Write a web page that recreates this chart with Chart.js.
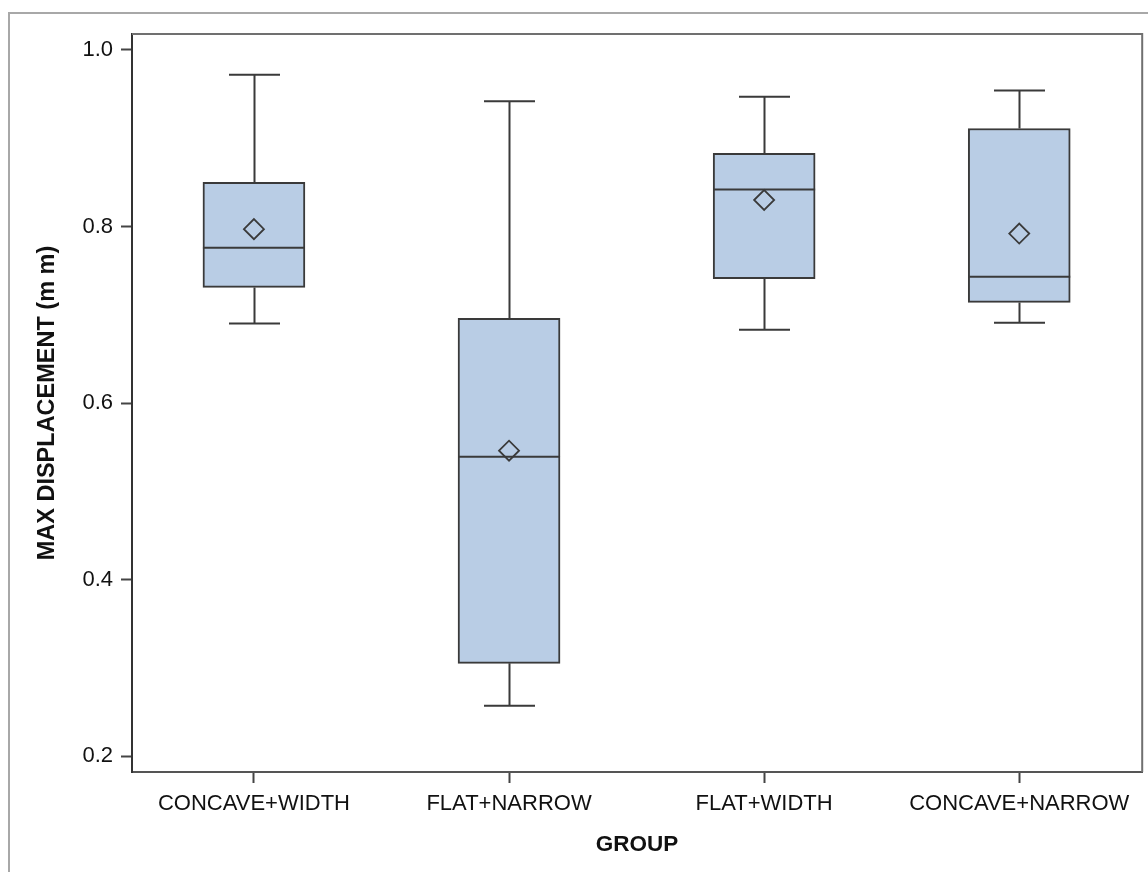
<!DOCTYPE html>
<html>
<head>
<meta charset="utf-8">
<script src="https://cdn.jsdelivr.net/npm/chart.js@4/dist/chart.umd.min.js"></script>
<style>
  html, body { margin: 0; padding: 0; background: #fff; overflow: hidden; }
  /* canvas is a little wider than the window: the point overflow margin falls outside */
  #wrap { width: 1154px; height: 872px; position: relative; }
</style>
</head>
<body>
<div id="wrap"><canvas id="boxChart"></canvas></div>
<script>
// group names on the x axis
const groups = ['CONCAVE+WIDTH', 'FLAT+NARROW', 'FLAT+WIDTH', 'CONCAVE+NARROW'];

// box plot statistics per group (mm)
const whiskerLow  = [0.690, 0.257, 0.683, 0.691];
const q1          = [0.731, 0.305, 0.741, 0.714];
const median      = [0.776, 0.539, 0.842, 0.743];
const q3          = [0.850, 0.696, 0.883, 0.911];
const whiskerHigh = [0.972, 0.942, 0.947, 0.954];
const means       = [0.797, 0.546, 0.830, 0.792];

// y axis tick labels
const yTicks = [0.2, 0.4, 0.6, 0.8, 1.0];

const boxFill = '#b9cde5';
const lineDark = '#3a3a3a';
const fontFamily = "'Liberation Sans', Arial, sans-serif";

// whiskers behind the boxes, median lines on top of them, frames around
const boxPlotPlugin = {
    id: 'boxPlotExtras',
    beforeDraw(chart) {
        const ctx = chart.ctx;
        ctx.save();
        ctx.strokeStyle = '#a8a8a8';
        ctx.lineWidth = 2;
        ctx.strokeRect(9, 13, 1400, 1000);
        ctx.restore();
    },
    beforeDatasetsDraw(chart) {
        const ctx = chart.ctx;
        const y = chart.scales.y;
        const meta = chart.getDatasetMeta(0);
        ctx.save();
        ctx.strokeStyle = lineDark;
        ctx.lineWidth = 2;
        meta.data.forEach(function(bar, i) {
            const cx = Math.round(bar.x) + 0.5;
            const half = bar.width / 4;
            const yHi = y.getPixelForValue(whiskerHigh[i]);
            const yLo = y.getPixelForValue(whiskerLow[i]);
            ctx.beginPath();
            ctx.moveTo(cx, yHi);
            ctx.lineTo(cx, y.getPixelForValue(q3[i]));
            ctx.moveTo(cx, y.getPixelForValue(q1[i]));
            ctx.lineTo(cx, yLo);
            ctx.moveTo(cx - half, yHi);
            ctx.lineTo(cx + half, yHi);
            ctx.moveTo(cx - half, yLo);
            ctx.lineTo(cx + half, yLo);
            ctx.stroke();
        });
        ctx.restore();
    },
    afterDatasetDraw(chart, args) {
        if (args.index !== 0) return;
        const ctx = chart.ctx;
        const y = chart.scales.y;
        ctx.save();
        ctx.strokeStyle = lineDark;
        ctx.lineWidth = 2;
        args.meta.data.forEach(function(bar, i) {
            const my = y.getPixelForValue(median[i]);
            ctx.beginPath();
            ctx.moveTo(bar.x - bar.width / 2, my);
            ctx.lineTo(bar.x + bar.width / 2, my);
            ctx.stroke();
        });
        ctx.restore();
    },
    afterDraw(chart) {
        const a = chart.chartArea;
        const ctx = chart.ctx;
        ctx.save();
        ctx.strokeStyle = '#707070';
        ctx.lineWidth = 2;
        ctx.beginPath();
        ctx.moveTo(a.left, a.top);
        ctx.lineTo(a.right, a.top);
        ctx.lineTo(a.right, a.bottom);
        ctx.stroke();
        ctx.restore();
    }
};

const ctx = document.getElementById('boxChart').getContext('2d');
new Chart(ctx, {
    type: 'bar',
    data: {
        datasets: [{
            type: 'bar',
            order: 1,
            data: groups.map((g, i) => ({ x: i, y: [q1[i], q3[i]] })),
            backgroundColor: boxFill,
            borderColor: lineDark,
            borderWidth: 2,
            borderSkipped: false,
            barThickness: 102
        }, {
            type: 'line',
            order: 0,
            data: groups.map((g, i) => ({ x: i, y: means[i] })),
            showLine: false,
            pointStyle: 'rectRot',
            pointRadius: 10,
            pointBackgroundColor: 'rgba(0,0,0,0)',
            pointBorderColor: lineDark,
            pointBorderWidth: 1.8
        }]
    },
    options: {
        responsive: true,
        maintainAspectRatio: false,
        animation: false,
        layout: { padding: { left: 0, top: 34, right: 0, bottom: 0 } },
        plugins: {
            legend: { display: false },
            tooltip: { enabled: false }
        },
        scales: {
            x: {
                type: 'linear',
                offset: false,
                min: -0.478,
                max: 3.482,
                afterBuildTicks: function(scale) {
                    scale.ticks = groups.map((g, i) => ({ value: i }));
                },
                afterFit: function(scale) {
                    scale.height = 100;
                    scale.paddingLeft = 0;
                    scale.paddingRight = 0;
                },
                grid: { offset: false, drawOnChartArea: false, tickLength: 11, tickColor: '#444', tickWidth: 2 },
                border: { color: '#555', width: 2 },
                ticks: {
                    padding: 8,
                    color: '#111',
                    maxRotation: 0,
                    autoSkip: false,
                    font: { family: fontFamily, size: 22 },
                    callback: function(v) { return groups[v]; }
                },
                title: {
                    display: true,
                    text: 'GROUP',
                    color: '#111',
                    padding: { top: 0, bottom: 14 },
                    font: { family: fontFamily, size: 22.5, weight: 'bold' }
                }
            },
            y: {
                min: 0.1819,
                max: 1.0181,
                afterBuildTicks: function(scale) {
                    scale.ticks = yTicks.map(v => ({ value: v }));
                },
                afterFit: function(scale) { scale.width = 132; },
                grid: { drawOnChartArea: false, tickLength: 11, tickColor: '#444', tickWidth: 2 },
                border: { color: '#333', width: 2 },
                ticks: {
                    padding: 8,
                    color: '#111',
                    font: { family: fontFamily, size: 22 },
                    callback: function(v) { return v.toFixed(1); }
                },
                title: {
                    display: true,
                    text: 'MAX DISPLACEMENT (m m)',
                    color: '#111',
                    padding: { top: 33, bottom: 0 },
                    font: { family: fontFamily, size: 23.5, weight: 'bold' }
                }
            }
        }
    },
    plugins: [boxPlotPlugin]
});
</script>
</body>
</html>
